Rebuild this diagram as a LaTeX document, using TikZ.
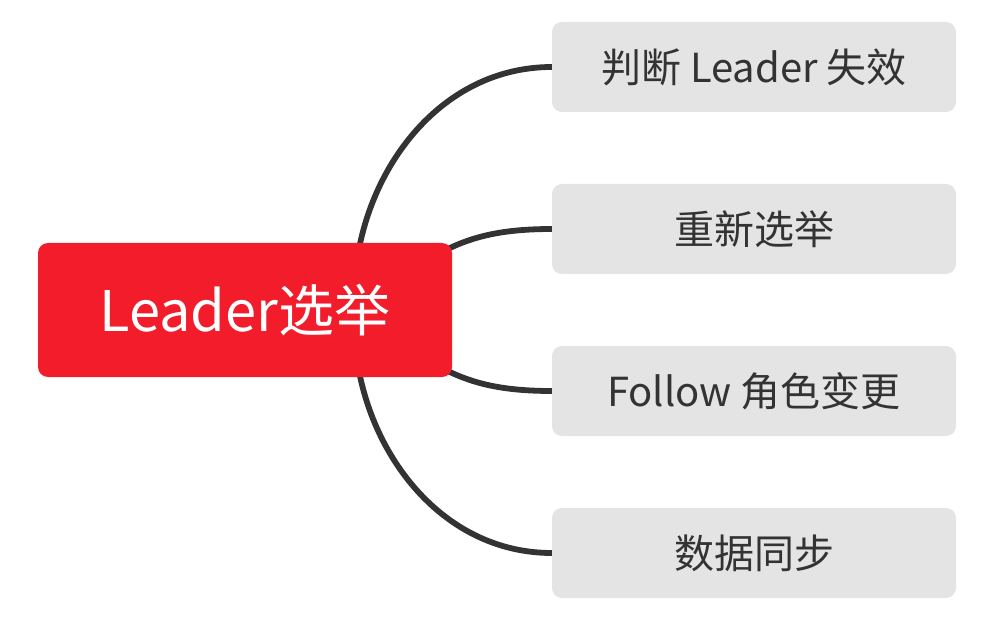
\documentclass[tikz,border=0pt]{standalone}
\usepackage{fontspec}
\setmainfont{Noto Sans CJK SC}
\usetikzlibrary{backgrounds,calc}
\definecolor{rootred}{HTML}{F21C2A}
\definecolor{leafgray}{HTML}{E4E4E4}
\definecolor{ink}{HTML}{333333}
\tikzset{
  rootbox/.style={fill=rootred, rounded corners=10pt, minimum width=414pt, minimum height=134pt, inner sep=0pt, text=white, font=\fontsize{56}{60}\selectfont},
  leafbox/.style={fill=leafgray, rounded corners=10pt, minimum width=404pt, minimum height=90pt, inner sep=0pt, text=ink, font=\fontsize{40}{44}\selectfont},
  link/.style={draw=ink, line width=5.8pt}
}
\begin{document}
\begin{tikzpicture}[x=1pt, y=-1pt]
\useasboundingbox (0,0) rectangle (990,620);
\node[rootbox] (root) at (245,310) {Leader选举};
\node[leafbox] (a) at (754,67) {判断 Leader 失效};
\node[leafbox] (b) at (754,229) {重新选举};
\node[leafbox] (c) at (754,391) {Follow 角色变更};
\node[leafbox] (d) at (754,553) {数据同步};
\begin{scope}[on background layer]
\draw[link] ($(root.north west)+(322,2)$) .. controls +(20,-95) and +(-100,0) .. (a.west);
\draw[link] ($(root.north east)+(-4,6)$) .. controls +(25,-12) and +(-50,0) .. (b.west);
\draw[link] ($(root.south east)+(-4,-6)$) .. controls +(25,12) and +(-50,0) .. (c.west);
\draw[link] ($(root.south west)+(322,-2)$) .. controls +(20,95) and +(-100,0) .. (d.west);
\end{scope}
\end{tikzpicture}
\end{document}
